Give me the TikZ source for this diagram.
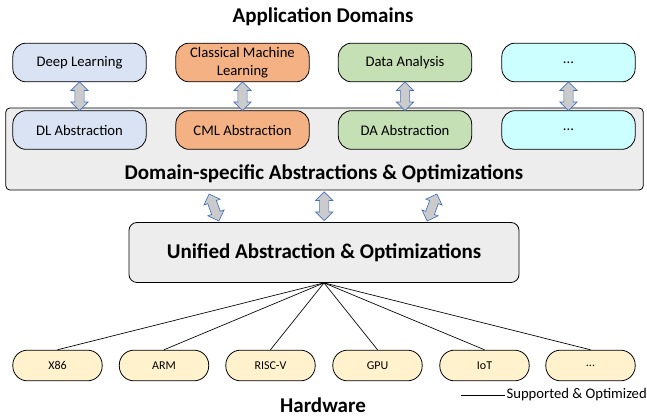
\documentclass[tikz,border=0pt]{standalone}
\usepackage{fontspec}
\setmainfont{Carlito}
\usetikzlibrary{shapes.arrows,calc}

\definecolor{dlblue}{HTML}{DAE3F3}
\definecolor{cmlorange}{HTML}{F4B183}
\definecolor{dagreen}{HTML}{C5E0B4}
\definecolor{etccyan}{HTML}{CCFFFF}
\definecolor{hwyellow}{HTML}{FFF2CC}
\definecolor{boxgray}{HTML}{EDEDED}
\definecolor{arrowblue}{HTML}{4472C4}
\definecolor{arrowgray}{HTML}{CBCBCB}

\begin{document}
\begin{tikzpicture}[x=0.75pt, y=-0.75pt,
	dombox/.style={draw, line width=0.6pt, rounded corners=10pt, minimum width=100pt, minimum height=29pt, align=center, inner sep=1pt, font=\fontsize{11}{13.5}\selectfont},
	hwbox/.style={draw, line width=0.6pt, fill=hwyellow, rounded corners=11pt, minimum width=67pt, minimum height=23pt, font=\fontsize{9}{10}\selectfont},
	dblarrow/.style={double arrow, draw=arrowblue, fill=arrowgray, line width=0.5pt, inner sep=3.2pt, double arrow head extend=3pt, minimum height=21.5pt},
	heading/.style={font=\bfseries\fontsize{15.75}{18}\selectfont}
]
	\useasboundingbox (0,0) rectangle (647,416);

	% application domains
	\node[heading] (apptitle) at (323,17) {Application Domains};
	\node[dombox, fill=dlblue] (dl) at (79.5,62.5) {Deep Learning};
	\node[dombox, fill=cmlorange] (cml) at (242.5,62.5) {Classical Machine\\Learning};
	\node[dombox, fill=dagreen] (da) at (405,62.5) {Data Analysis};
	\node[dombox, fill=etccyan] (etc) at (568.5,62.5) {...};

	% domain-specific layer
	\node[draw, line width=0.6pt, fill=boxgray, rounded corners=3pt, minimum width=478pt, minimum height=61.5pt] (dsa) at (324.5,149) {};
	\node[dombox, fill=dlblue] (dla) at (79.5,130) {DL Abstraction};
	\node[dombox, fill=cmlorange] (cmla) at (242.5,130) {CML Abstraction};
	\node[dombox, fill=dagreen] (daa) at (405,130) {DA Abstraction};
	\node[dombox, fill=etccyan] (etca) at (568.5,130) {...};
	\node[heading] (dsatext) at (324,174) {Domain-specific Abstractions \& Optimizations};

	\node[dblarrow, rotate=90] (a1) at ($(dl.south)!0.5!(dla.north)$) {};
	\node[dblarrow, rotate=90] (a2) at ($(cml.south)!0.5!(cmla.north)$) {};
	\node[dblarrow, rotate=90] (a3) at ($(da.south)!0.5!(daa.north)$) {};
	\node[dblarrow, rotate=90] (a4) at ($(etc.south)!0.5!(etca.north)$) {};

	% unified layer
	\node[draw, line width=0.6pt, fill=boxgray, rounded corners=6pt, minimum width=292.5pt, minimum height=45pt, heading] (uni) at (324,252.5) {Unified Abstraction \& Optimizations};

	\node[dblarrow, rotate=110] (b1) at (214,207.5) {};
	\node[dblarrow, rotate=90] (b2) at ($(dsa.south)!0.5!(uni.north)$) {};
	\node[dblarrow, rotate=70] (b3) at (432,207.5) {};

	% hardware
	\node[hwbox] (x86) at (57.5,365.5) {X86};
	\node[hwbox] (arm) at (164,365.5) {ARM};
	\node[hwbox] (riscv) at (270.5,365.5) {RISC-V};
	\node[hwbox] (gpu) at (377.5,365.5) {GPU};
	\node[hwbox] (iot) at (484.5,365.5) {IoT};
	\node[hwbox] (hwetc) at (590.5,365.5) {...};
	\foreach \hw in {x86,arm,riscv,gpu,iot,hwetc}
		\draw[line width=0.5pt] (uni.south) -- (\hw.north);
	\node[heading] (hwtitle) at (323,405) {Hardware};

	% legend
	\node[anchor=west, inner sep=1pt, font=\fontsize{11}{12}\selectfont] (lgd) at (505,395) {Supported \& Optimized};
	\coordinate (lgdl) at (461,395);
	\draw[line width=0.5pt] (lgdl) -- (lgd.west);
\end{tikzpicture}
\end{document}
